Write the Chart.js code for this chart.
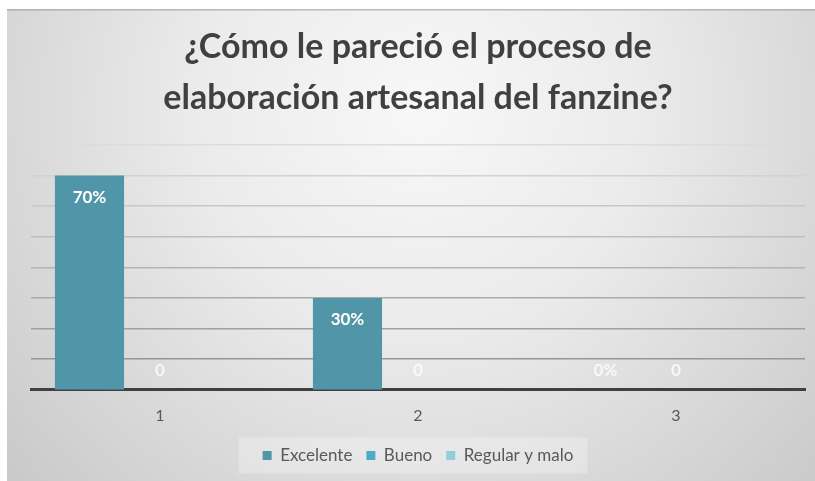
<!DOCTYPE html>
<html>
<head>
<meta charset="utf-8">
<script src="https://cdn.jsdelivr.net/npm/chart.js@4/dist/chart.umd.min.js"></script>
<style>
  html, body { margin: 0; padding: 0; background: #ffffff; }
  #wrap { width: 815px; height: 481px; }
</style>
</head>
<body>
<div id="wrap"><canvas id="c" width="815" height="481"></canvas></div>
<script>
// Survey results per category
const categories = ['1', '2', '3'];
const excelente = [70, 30, 0];
const bueno = [0, 0, 0];
const regularYMalo = [null, null, null];
const seriesNames = ['Excelente', 'Bueno', 'Regular y malo'];
const titleLines = ['¿Cómo le pareció el proceso de', 'elaboración artesanal del fanzine?'];

const FONT = 'Lato, "Open Sans", sans-serif';

// Soft radial-gradient panel behind the whole chart, plus the legend's tinted box
const panelBackground = {
  id: 'panelBackground',
  beforeDraw(chart) {
    const ctx = chart.ctx;
    const W = chart.width, H = chart.height;
    ctx.save();
    ctx.fillStyle = '#ffffff';
    ctx.fillRect(0, 0, W, H);
    const x0 = 7, y0 = 9;
    const g = ctx.createRadialGradient(420, 110, 10, 420, 110, 620);
    g.addColorStop(0, '#f7f7f7');
    g.addColorStop(0.35, '#ebebeb');
    g.addColorStop(1, '#c2c2c2');
    ctx.fillStyle = g;
    ctx.fillRect(x0, y0, W - x0, H - y0);
    ctx.fillStyle = 'rgba(150,150,150,0.6)';
    ctx.fillRect(x0, y0, W - x0, 1.5);

    const lg = chart.legend;
    if (lg && lg.legendHitBoxes && lg.legendHitBoxes.length) {
      const boxes = lg.legendHitBoxes;
      const left = Math.min(...boxes.map(b => b.left)) - 24;
      const right = Math.max(...boxes.map(b => b.left + b.width)) + 14;
      const cy = boxes[0].top + boxes[0].height / 2;
      ctx.fillStyle = 'rgba(255,255,255,0.28)';
      ctx.fillRect(left, cy - 18, right - left, 36);
    }
    ctx.restore();
  }
};

// Value labels drawn inside the top end of each bar
const valueLabels = {
  id: 'valueLabels',
  afterDatasetsDraw(chart) {
    const ctx = chart.ctx;
    ctx.save();
    ctx.font = 'bold 17px ' + FONT;
    ctx.textAlign = 'center';
    ctx.textBaseline = 'middle';
    chart.data.datasets.forEach((ds, di) => {
      if (di > 1) return;
      const meta = chart.getDatasetMeta(di);
      meta.data.forEach((el, i) => {
        const v = ds.data[i];
        if (v === null || v === undefined) return;
        const text = di === 0 ? v + '%' : String(v);
        const y = v > 0 ? el.y + 22 : el.base - 19;
        ctx.fillStyle = v > 0 ? '#ffffff' : 'rgba(255,255,255,0.75)';
        ctx.fillText(text, el.x, y);
      });
    });
    ctx.restore();
  }
};

const gridShade = v => {
  // lighter toward the top of the plot, darker near the baseline
  const t = v / 80;
  const c = Math.round(140 + t * 80);
  return `rgb(${c},${c},${c})`;
};

new Chart(document.getElementById('c'), {
  type: 'bar',
  data: {
    labels: categories,
    datasets: [
      { label: seriesNames[0], data: excelente, backgroundColor: '#5096a8' },
      { label: seriesNames[1], data: bueno, backgroundColor: '#4bacc6' },
      { label: seriesNames[2], data: regularYMalo, backgroundColor: '#92cddc' }
    ]
  },
  options: {
    responsive: false,
    animation: false,
    devicePixelRatio: 1,
    layout: { padding: { left: 31, right: 10, top: 9, bottom: 7 } },
    datasets: {
      bar: { categoryPercentage: 0.82, barPercentage: 0.98 }
    },
    scales: {
      x: {
        grid: { display: false },
        border: { display: true, color: '#404040', width: 3 },
        ticks: { color: '#595959', font: { family: FONT, size: 16 }, padding: 8 }
      },
      y: {
        min: 0,
        max: 80,
        ticks: { display: false, stepSize: 10 },
        border: { display: false },
        grid: {
          drawTicks: false,
          lineWidth: ctx => (ctx.tick && ctx.tick.value === 0 ? 0 : 1.5),
          color: ctx => gridShade(ctx.tick ? ctx.tick.value : 40)
        }
      }
    },
    plugins: {
      title: {
        display: true,
        text: titleLines,
        color: '#404040',
        font: { family: FONT, size: 34, weight: 'bold', lineHeight: 1.5 },
        padding: { top: 13, bottom: 21 }
      },
      legend: {
        position: 'bottom',
        labels: {
          color: '#595959',
          font: { family: FONT, size: 17 },
          boxWidth: 9,
          boxHeight: 9,
          padding: 14
        }
      },
      tooltip: { enabled: false }
    }
  },
  plugins: [panelBackground, valueLabels]
});
</script>
</body>
</html>
